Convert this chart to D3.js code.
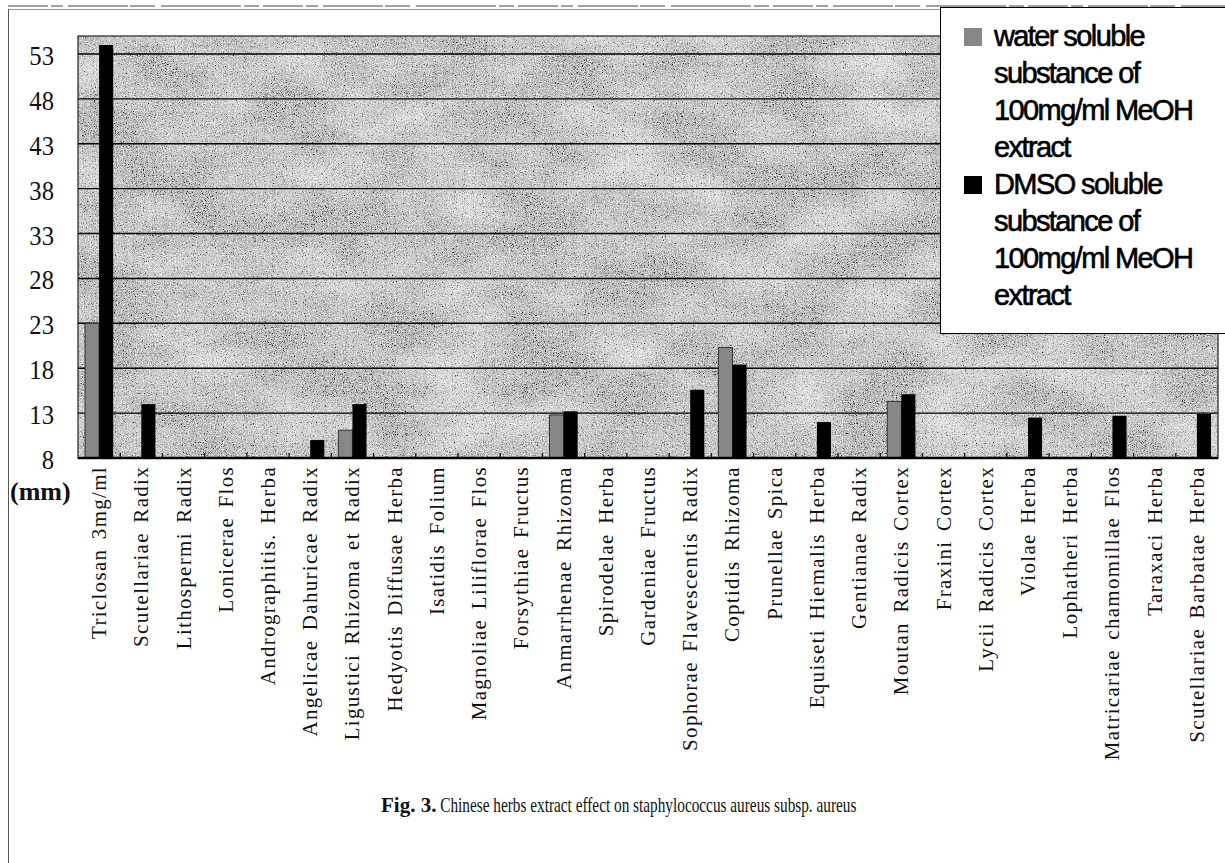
<!DOCTYPE html>
<html>
<head>
<meta charset="utf-8">
<script src="https://cdn.jsdelivr.net/npm/d3@7/dist/d3.min.js"></script>
<style>
  body { margin: 0; background: #fff; }
  svg { display: block; }
</style>
</head>
<body>
<div id="chart"></div>
<script>
// Inhibition zone (mm) per herb extract
const categories = [
  'Triclosan 3mg/ml', 'Scutellariae Radix', 'Lithospermi Radix', 'Lonicerae Flos',
  'Andrographitis. Herba', 'Angelicae Dahuricae Radix', 'Ligustici Rhizoma et Radix',
  'Hedyotis Diffusae Herba', 'Isatidis Folium', 'Magnoliae Liliflorae Flos',
  'Forsythiae Fructus', 'Anmarrhenae Rhizoma', 'Spirodelae Herba', 'Gardeniae Fructus',
  'Sophorae Flavescentis Radix', 'Coptidis Rhizoma', 'Prunellae Spica',
  'Equiseti Hiemalis Herba', 'Gentianae Radix', 'Moutan Radicis Cortex', 'Fraxini Cortex',
  'Lycii Radicis Cortex', 'Violae Herba', 'Lophatheri Herba',
  'Matricariae chamomillae Flos', 'Taraxaci Herba', 'Scutellariae Barbatae Herba'
];
// null = no bar drawn
const waterValues = [23, null, null, null, null, null, 11.1, null, null, null, null, 12.8, null, null,
  null, 20.3, null, null, null, 14.3, null, null, null, null, null, null, null];
const dmsoValues = [54, 14, null, null, null, 10, 14, null, null, null, null, 13.2, null, null,
  15.6, 18.4, null, 12, null, 15.1, null, null, 12.5, null, 12.7, null, 12.9];
const seriesKeys = ['water', 'dmso'];
const yTicks = [8, 13, 18, 23, 28, 33, 38, 43, 48, 53];
const yDomain = [8, 55];
const legendItems = [
  { key: 'water', lines: ['water soluble', 'substance of', '100mg/ml MeOH', 'extract'] },
  { key: 'dmso', lines: ['DMSO soluble', 'substance of', '100mg/ml MeOH', 'extract'] }
];
const captionBold = 'Fig. 3.';
const captionText = ' Chinese herbs extract effect on staphylococcus aureus subsp. aureus';
const yUnit = '(mm)';

const W = 1225, H = 863;
const plot = { left: 78, top: 36, right: 1218, bottom: 458 };
const colors = { water: '#878787', dmso: '#000000', plotBg: '#b7b7b7' };

const svg = d3.select('#chart').append('svg')
  .attr('width', W).attr('height', H);

// scanned-paper texture for the plot background
const defs = svg.append('defs');
const grain = defs.append('filter').attr('id', 'grain')
  .attr('x', 0).attr('y', 0).attr('width', '100%').attr('height', '100%');
grain.append('feTurbulence').attr('type', 'fractalNoise')
  .attr('baseFrequency', 0.9).attr('numOctaves', 2).attr('seed', 4).attr('result', 'fine');
grain.append('feColorMatrix').attr('in', 'fine').attr('type', 'matrix')
  .attr('values', '0 0 0 0 0  0 0 0 0 0  0 0 0 0 0  3 0 0 0 -1.55').attr('result', 'dark');
grain.append('feTurbulence').attr('type', 'fractalNoise')
  .attr('baseFrequency', 0.85).attr('numOctaves', 2).attr('seed', 11).attr('result', 'fine2');
grain.append('feColorMatrix').attr('in', 'fine2').attr('type', 'matrix')
  .attr('values', '0 0 0 0 1  0 0 0 0 1  0 0 0 0 1  3 0 0 0 -1.45').attr('result', 'light');
grain.append('feTurbulence').attr('type', 'fractalNoise')
  .attr('baseFrequency', '0.012 0.02').attr('numOctaves', 3).attr('seed', 7).attr('result', 'blot');
grain.append('feColorMatrix').attr('in', 'blot').attr('type', 'matrix')
  .attr('values', '0 0 0 0 1  0 0 0 0 1  0 0 0 0 1  1.2 0 0 0 -0.45').attr('result', 'blotA');
const merge = grain.append('feMerge');
merge.append('feMergeNode').attr('in', 'blotA');
merge.append('feMergeNode').attr('in', 'dark');
merge.append('feMergeNode').attr('in', 'light');

// page frame (scan border)
svg.append('line').attr('x1', 8).attr('x2', W).attr('y1', 6).attr('y2', 6)
  .attr('stroke', '#444').attr('stroke-width', 1.2)
  .attr('stroke-dasharray', '40 3 12 5 60 2 25 6 80 3 15 4');
svg.append('line').attr('x1', 8).attr('x2', 940).attr('y1', 9.5).attr('y2', 9.5)
  .attr('stroke', '#777').attr('stroke-width', 0.8);
svg.append('line').attr('x1', 8.5).attr('x2', 8.5).attr('y1', 9).attr('y2', H)
  .attr('stroke', '#555').attr('stroke-width', 1);

const x = d3.scaleBand().domain(categories).range([plot.left, plot.right]).padding(0);
const xs = d3.scaleBand().domain(seriesKeys).range([0, x.bandwidth()])
  .paddingInner(0).paddingOuter(0.5);
const y = d3.scaleLinear().domain(yDomain).range([plot.bottom, plot.top]);

// plot background
svg.append('rect')
  .attr('x', plot.left).attr('y', plot.top)
  .attr('width', plot.right - plot.left).attr('height', plot.bottom - plot.top)
  .attr('fill', colors.plotBg);
svg.append('rect')
  .attr('x', plot.left).attr('y', plot.top)
  .attr('width', plot.right - plot.left).attr('height', plot.bottom - plot.top)
  .attr('fill', '#fff').attr('filter', 'url(#grain)');

// gridlines
svg.append('g').selectAll('line')
  .data(yTicks.filter(t => t > yDomain[0]))
  .join('line')
  .attr('x1', plot.left).attr('x2', plot.right)
  .attr('y1', d => y(d)).attr('y2', d => y(d))
  .attr('stroke', '#000').attr('stroke-width', 1.4);

// plot border
svg.append('rect')
  .attr('x', plot.left).attr('y', plot.top)
  .attr('width', plot.right - plot.left).attr('height', plot.bottom - plot.top)
  .attr('fill', 'none').attr('stroke', '#222').attr('stroke-width', 1.2);

// bars
const rows = categories.map((c, i) => ({ cat: c, water: waterValues[i], dmso: dmsoValues[i] }));
const groups = svg.append('g').selectAll('g')
  .data(rows).join('g')
  .attr('transform', d => `translate(${x(d.cat)},0)`);
groups.selectAll('rect')
  .data(d => seriesKeys.map(k => ({ key: k, value: d[k] })).filter(v => v.value != null))
  .join('rect')
  .attr('x', d => xs(d.key))
  .attr('width', xs.bandwidth())
  .attr('y', d => y(d.value))
  .attr('height', d => y(yDomain[0]) - y(d.value))
  .attr('fill', d => colors[d.key])
  .attr('stroke', d => d.key === 'water' ? '#333' : 'none')
  .attr('stroke-width', 1);

// x axis line and inner tick marks at category boundaries
svg.append('line')
  .attr('x1', plot.left).attr('x2', plot.right)
  .attr('y1', plot.bottom).attr('y2', plot.bottom)
  .attr('stroke', '#000').attr('stroke-width', 2.5);
svg.append('g').selectAll('line')
  .data(categories.slice(1))
  .join('line')
  .attr('x1', d => x(d)).attr('x2', d => x(d))
  .attr('y1', plot.bottom).attr('y2', plot.bottom - 5)
  .attr('stroke', '#000').attr('stroke-width', 1.2);

// y tick labels
svg.append('g').selectAll('text')
  .data(yTicks)
  .join('text')
  .attr('transform', d => `translate(${plot.left - 24},${y(d) + 11}) scale(0.88,1)`)
  .attr('text-anchor', 'end')
  .attr('font-family', 'Liberation Serif, serif')
  .attr('font-size', 28)
  .attr('fill', '#111')
  .text(d => d);

svg.append('text')
  .attr('x', 10).attr('y', 500)
  .attr('font-family', 'Liberation Serif, serif')
  .attr('font-weight', 'bold')
  .attr('font-size', 26)
  .attr('fill', '#111')
  .text(yUnit);

// x category labels, vertical
svg.append('g').selectAll('text')
  .data(categories)
  .join('text')
  .attr('transform', d => `translate(${x(d) + x.bandwidth() / 2 + 7},${plot.bottom + 8}) rotate(-90)`)
  .attr('text-anchor', 'end')
  .attr('font-family', 'Liberation Serif, serif')
  .attr('font-size', 21)
  .attr('letter-spacing', 1.3)
  .attr('word-spacing', 3)
  .attr('fill', '#111')
  .text(d => d);

// legend
const legend = svg.append('g');
legend.append('rect')
  .attr('x', 940.5).attr('y', 7.5).attr('width', 290).attr('height', 326)
  .attr('fill', '#fff').attr('stroke', '#000').attr('stroke-width', 1);
const lineH = 37;
let baseY = 46;
legendItems.forEach(item => {
  legend.append('rect')
    .attr('x', 964).attr('y', baseY - 18).attr('width', 18).attr('height', 18)
    .attr('fill', colors[item.key]);
  item.lines.forEach((ln, j) => {
    legend.append('text')
      .attr('x', 994).attr('y', baseY + j * lineH)
      .attr('font-family', 'Liberation Sans, Arial, sans-serif')
      .attr('font-size', 29)
      .attr('letter-spacing', -1.6)
      .attr('fill', '#000')
      .attr('stroke', '#000')
      .attr('stroke-width', 0.6)
      .text(ln);
  });
  baseY += item.lines.length * lineH;
});

// caption
const cap = svg.append('text')
  .attr('x', 381).attr('y', 812)
  .attr('font-family', 'Liberation Serif, serif')
  .attr('font-size', 21)
  .attr('fill', '#111');
cap.append('tspan').attr('font-weight', 'bold').text(captionBold);
cap.append('tspan')
  .attr('textLength', 420).attr('lengthAdjust', 'spacingAndGlyphs')
  .text(captionText);
</script>
</body>
</html>
